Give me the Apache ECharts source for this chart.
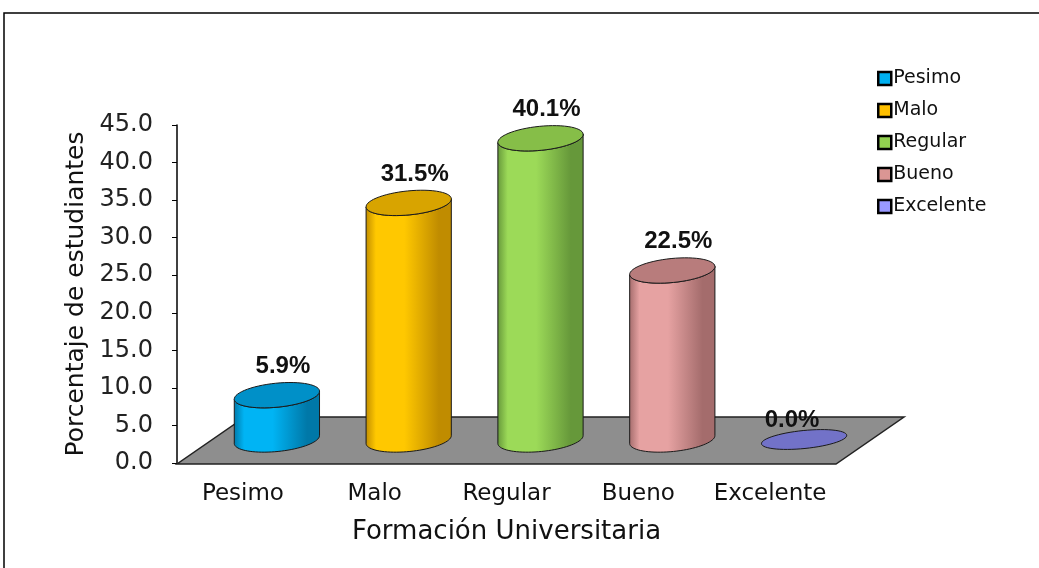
<!DOCTYPE html>
<html>
<head>
<meta charset="utf-8">
<script src="https://cdn.jsdelivr.net/npm/echarts@6/dist/echarts.min.js"></script>
<style>
  html, body { margin: 0; padding: 0; background: #fff; }
  #chart { width: 1039px; height: 568px; }
</style>
</head>
<body>
<div id="chart"></div>
<script>
// datos del grafico
const categories = ['Pesimo', 'Malo', 'Regular', 'Bueno', 'Excelente'];
const values = [5.9, 31.5, 40.1, 22.5, 0.0];
const axisTitleX = 'Formación Universitaria';
const axisTitleY = 'Porcentaje de estudiantes';

// colores: [cuerpo claro, borde oscuro, tapa, leyenda]
const palette = [
  ['#00B4F4', '#0078A8', '#0090C8', '#00B0F0'],
  ['#FFC800', '#C08C00', '#D8A400', '#FFC000'],
  ['#9CDA58', '#66983A', '#86BE48', '#92D050'],
  ['#E6A2A2', '#A46C6C', '#B87C7C', '#DA9694'],
  ['#8080D8', '#5050A0', '#7272C8', '#9999FF']
];

// desplazamiento de profundidad del piso (pseudo 3D)
const DEPTH = { x: 68, y: -47 };
const MID = { x: DEPTH.x / 2, y: DEPTH.y / 2 };
const TILT = 0.1;
const FONT = "'DejaVu Sans', Arial, sans-serif";
const FONT_BOLD = "'Liberation Sans', Arial, sans-serif";

const chart = echarts.init(document.getElementById('chart'));

function ellipsePts(cx, cy, rx, ry, t0, t1, n) {
  const pts = [];
  const c = Math.cos(TILT), s = Math.sin(TILT);
  for (let i = 0; i <= n; i++) {
    const t = t0 + (t1 - t0) * i / n;
    const x = rx * Math.cos(t), y = ry * Math.sin(t);
    pts.push([cx + x * c + y * s, cy - x * s + y * c]);
  }
  return pts;
}

function renderCylinder(params, api) {
  const idx = api.value(0);
  const val = api.value(1);
  const col = palette[idx];
  const base = api.coord([idx, 0]);
  const top = api.coord([idx, val]);
  const rx = api.size([1, 0])[0] * 0.325;
  const ry = 12;
  const bx = base[0] + MID.x, by = base[1] + MID.y;
  const ty = top[1] + MID.y;
  const children = [];

  if (val > 0) {
    const body = ellipsePts(bx, by, rx, ry, 0, Math.PI, 40)
      .concat(ellipsePts(bx, ty, rx, ry, Math.PI, 0, 40));
    children.push({
      type: 'polygon',
      shape: { points: body },
      style: {
        fill: new echarts.graphic.LinearGradient(0, 0, 1, 0, [
          { offset: 0, color: col[1] },
          { offset: 0.12, color: col[0] },
          { offset: 0.45, color: col[0] },
          { offset: 0.85, color: col[1] },
          { offset: 1, color: col[1] }
        ]),
        stroke: '#1a1a1a',
        lineWidth: 1
      }
    });
  }
  children.push({
    type: 'polygon',
    shape: { points: ellipsePts(bx, ty, rx, val > 0 ? ry : 9, 0, Math.PI * 2, 60) },
    style: { fill: col[2], stroke: '#1a1a1a', lineWidth: 1 }
  });
  children.push({
    type: 'text',
    z2: 10,
    style: {
      x: val > 0 ? bx + 6 : bx - 12,
      y: ty - (val > 0 ? 29 : 19),
      text: val.toFixed(1) + '%',
      fill: '#111',
      font: 'bold 24px ' + FONT_BOLD,
      align: 'center',
      verticalAlign: 'middle'
    }
  });
  return { type: 'group', children: children };
}

function renderFloor(params, api) {
  const cs = params.coordSys;
  const x0 = cs.x, x1 = cs.x + cs.width, y0 = cs.y + cs.height + 1;
  return {
    type: 'polygon',
    shape: {
      points: [
        [x0, y0], [x1, y0],
        [x1 + DEPTH.x, y0 + DEPTH.y], [x0 + DEPTH.x, y0 + DEPTH.y]
      ]
    },
    style: { fill: '#8E8E8E', stroke: '#222', lineWidth: 1.5 }
  };
}

const series = [{
  name: 'piso',
  type: 'custom',
  renderItem: renderFloor,
  data: [[0]],
  silent: true,
  z: 1
}];
categories.forEach(function (name, i) {
  series.push({
    name: name,
    type: 'custom',
    renderItem: renderCylinder,
    encode: { x: 0, y: 1 },
    itemStyle: { color: palette[i][3] },
    data: [[i, values[i]]],
    z: 2 + i
  });
});

const option = {
  animation: false,
  grid: { left: 177, right: 203, top: 125, bottom: 105 },
  legend: {
    data: categories,
    orient: 'vertical',
    left: 872,
    top: 64,
    icon: 'rect',
    itemWidth: 13,
    itemHeight: 13,
    itemGap: 13,
    itemStyle: { borderColor: '#000', borderWidth: 2.5 },
    textStyle: { fontSize: 19, color: '#111', fontFamily: FONT, padding: [0, 0, 0, -3] }
  },
  xAxis: {
    type: 'category',
    data: categories,
    axisLine: { show: false },
    axisTick: { show: false },
    axisLabel: { interval: 0, hideOverlap: false, fontSize: 23, color: '#111', fontFamily: FONT, margin: 20 },
    name: axisTitleX,
    nameLocation: 'middle',
    nameGap: 56,
    nameTextStyle: { fontSize: 26, color: '#111', fontFamily: FONT }
  },
  yAxis: {
    type: 'value',
    min: 0,
    max: 45,
    interval: 5,
    axisLine: { show: true, lineStyle: { color: '#000', width: 1.5 } },
    axisTick: { show: true, length: 5, lineStyle: { color: '#000' } },
    splitLine: { show: false },
    axisLabel: {
      fontSize: 24, color: '#222', fontFamily: FONT, margin: 24,
      formatter: function (v) { return v.toFixed(1); }
    },
    name: axisTitleY,
    nameLocation: 'middle',
    nameGap: 85,
    nameTextStyle: { fontSize: 25, color: '#111', fontFamily: FONT }
  },
  graphic: [{
    type: 'rect',
    shape: { x: 4, y: 13, width: 1200, height: 700 },
    style: { fill: null, stroke: '#000', lineWidth: 1.5 },
    silent: true
  }],
  series: series
};

chart.setOption(option);
window.addEventListener('resize', function () { chart.resize(); });
</script>
</body>
</html>
